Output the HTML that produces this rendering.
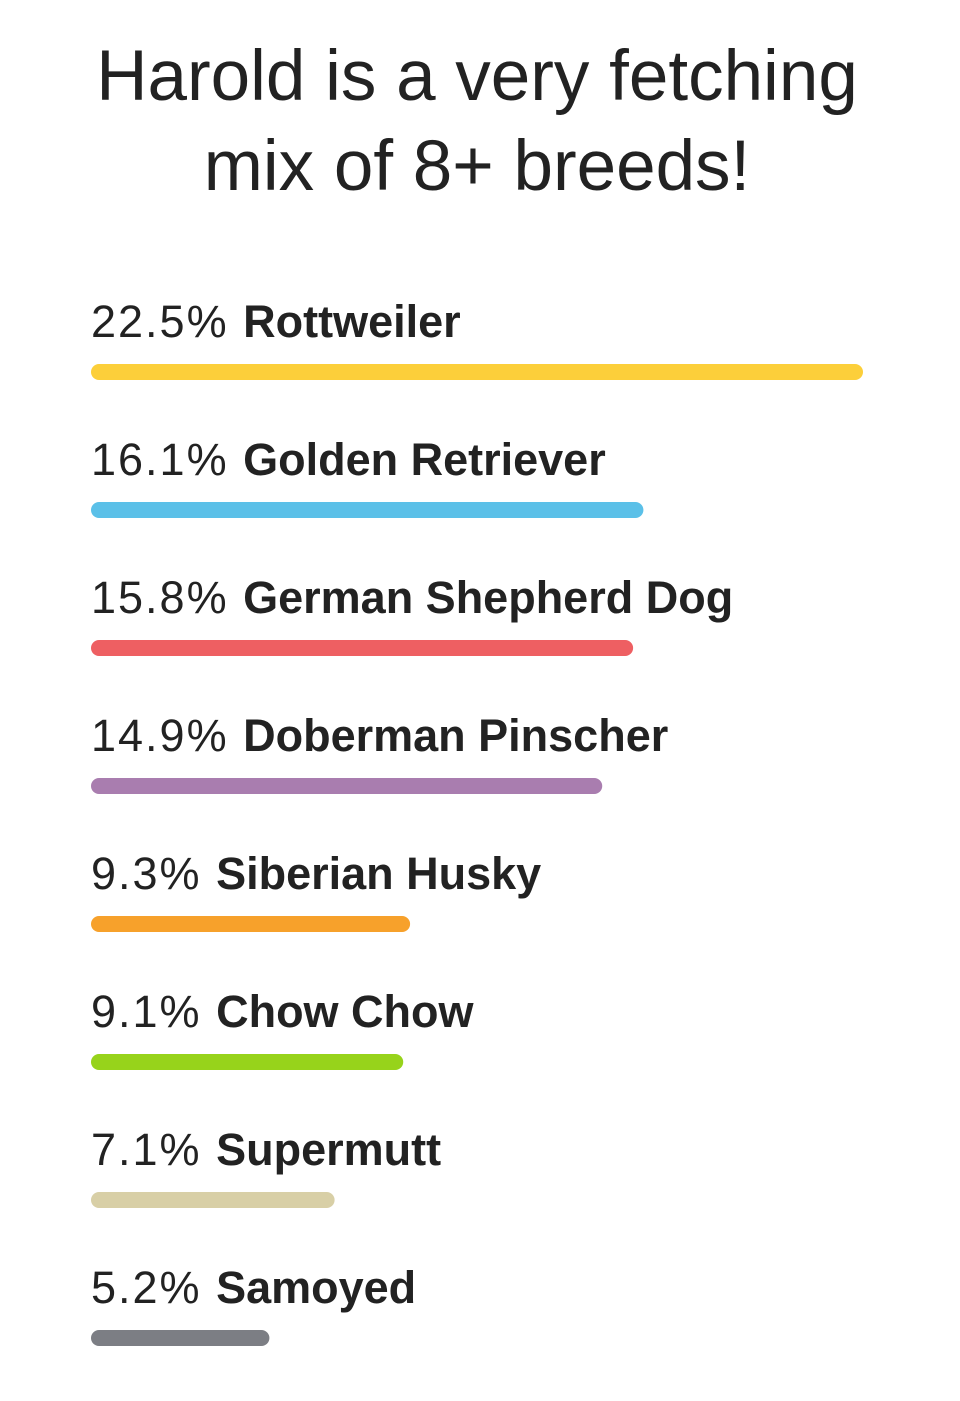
<!DOCTYPE html>
<html><head><meta charset="utf-8"><style>
html,body{margin:0;padding:0;background:#fff;}
svg{display:block;font-family:"Liberation Sans",sans-serif;}
</style></head><body>
<svg id="chart" width="960" height="1401" viewBox="0 0 960 1401">
<text x="477" y="100" text-anchor="middle" font-size="71" fill="#222">Harold is a very fetching</text>
<text x="477" y="190" text-anchor="middle" font-size="71" fill="#222">mix of 8+ breeds!</text>
<g id="bars"></g>
</svg>
<script>
const breeds = ["Rottweiler","Golden Retriever","German Shepherd Dog","Doberman Pinscher","Siberian Husky","Chow Chow","Supermutt","Samoyed"];
const percents = [22.5,16.1,15.8,14.9,9.3,9.1,7.1,5.2];
const colors = ["#FCCF3A","#5BC0E8","#EE5F62","#A97DAF","#F7A12B","#97D31B","#D8CFA6","#7C7E84"];
const NS="http://www.w3.org/2000/svg";
const x0=91, pxPer=772/22.5;
const xScale=v=>v*pxPer;
const yScale=i=>372+i*138;
const g=document.getElementById('bars');
breeds.forEach((b,i)=>{
  const cy=yScale(i);
  const t=document.createElementNS(NS,'text');
  
  
  t.setAttribute('x',x0);t.setAttribute('y',cy-35);
  t.setAttribute('font-size','45');t.setAttribute('fill','#222');
  const s1=document.createElementNS(NS,'tspan');s1.setAttribute('letter-spacing','2');s1.textContent=percents[i].toFixed(1)+'% ';
  const s2=document.createElementNS(NS,'tspan');s2.setAttribute('font-weight','bold');s2.textContent=b;
  t.appendChild(s1);t.appendChild(s2);g.appendChild(t);
  const r=document.createElementNS(NS,'rect');
  
  
  r.setAttribute('x',x0);r.setAttribute('y',cy-8);
  r.setAttribute('width',xScale(percents[i]));r.setAttribute('height',16);
  r.setAttribute('rx',8);r.setAttribute('fill',colors[i]);
  g.appendChild(r);
});
</script>
</body></html>
